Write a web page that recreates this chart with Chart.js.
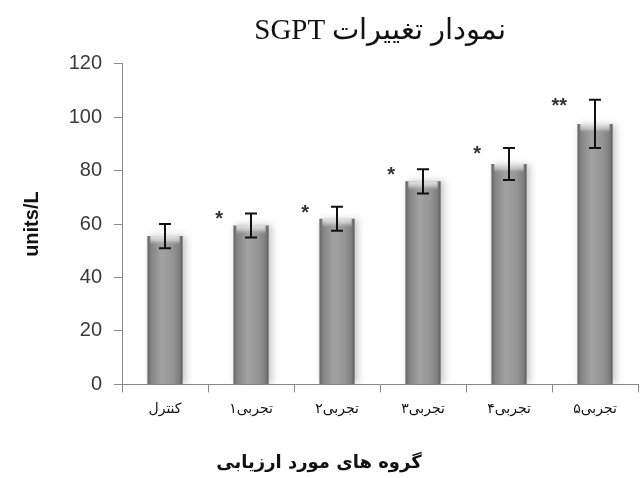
<!DOCTYPE html>
<html>
<head>
<meta charset="utf-8">
<script src="https://cdn.jsdelivr.net/npm/chart.js@4.4.1/dist/chart.umd.min.js"></script>
<style>
  html, body { margin: 0; padding: 0; background: #ffffff; }
  #wrap { width: 641px; height: 478px; }
</style>
</head>
<body>
<div id="wrap"><canvas id="chart" width="641" height="478"></canvas></div>
<script>
// Groups, mean SGPT (units/L), standard error and significance marks
const categories = ['کنترل', 'تجربی۱', 'تجربی۲', 'تجربی۳', 'تجربی۴', 'تجربی۵'];
const sgptMeans = [55.5, 59.5, 62, 76, 82.5, 97.5];
const sgptErrors = [4.5, 4.5, 4.5, 4.5, 6, 9];
const significance = ['', '*', '*', '*', '*', '**'];
const yTicks = [0, 20, 40, 60, 80, 100, 120];

const BAR_FRACTION = 0.41;

// Horizontal grey gradient giving the bars a rounded, cylinder-like look
function barFill(ctx) {
  const chart = ctx.chart;
  const xs = chart.scales && chart.scales.x;
  if (!xs || !chart.chartArea || ctx.dataIndex === undefined) return '#8f8f8f';
  const cx = xs.getPixelForValue(ctx.dataIndex);
  const w = (xs.width / categories.length) * BAR_FRACTION;
  const g = chart.ctx.createLinearGradient(cx - w / 2, 0, cx + w / 2, 0);
  g.addColorStop(0, '#676767');
  g.addColorStop(0.12, '#858585');
  g.addColorStop(0.4, '#a2a2a2');
  g.addColorStop(0.7, '#969696');
  g.addColorStop(0.9, '#808080');
  g.addColorStop(1, '#5f5f5f');
  return g;
}

// Soft shadow under the bars
const barShadow = {
  id: 'barShadow',
  beforeDatasetsDraw(chart) {
    const c = chart.ctx;
    c.save();
    c.shadowColor = 'rgba(0,0,0,0.22)';
    c.shadowBlur = 7;
    c.shadowOffsetX = 3;
    c.shadowOffsetY = 0;
  },
  afterDatasetsDraw(chart) {
    chart.ctx.restore();
  }
};

// Light bevelled cap, error bars and significance asterisks
const barDecorations = {
  id: 'barDecorations',
  afterDatasetsDraw(chart) {
    const c = chart.ctx;
    const ys = chart.scales.y;
    const meta = chart.getDatasetMeta(0);
    meta.data.forEach((bar, i) => {
      const left = bar.x - bar.width / 2;
      const w = bar.width;
      // cap highlight
      const cap = c.createLinearGradient(0, bar.y, 0, bar.y + 9);
      cap.addColorStop(0, 'rgba(235,235,235,0.95)');
      cap.addColorStop(0.5, 'rgba(215,215,215,0.7)');
      cap.addColorStop(1, 'rgba(170,170,170,0)');
      c.save();
      c.fillStyle = cap;
      c.fillRect(left + 3, bar.y, w - 6, 9);
      c.restore();

      // error bar
      const top = ys.getPixelForValue(sgptMeans[i] + sgptErrors[i]);
      const bot = ys.getPixelForValue(sgptMeans[i] - sgptErrors[i]);
      c.save();
      c.strokeStyle = '#111111';
      c.lineWidth = 2;
      c.beginPath();
      c.moveTo(bar.x, top); c.lineTo(bar.x, bot);
      c.moveTo(bar.x - 6, top); c.lineTo(bar.x + 6, top);
      c.moveTo(bar.x - 6, bot); c.lineTo(bar.x + 6, bot);
      c.stroke();

      // significance mark to the upper left of the bar
      if (significance[i]) {
        c.fillStyle = '#333333';
        c.font = 'bold 20px "Liberation Sans", Arial, sans-serif';
        c.textAlign = 'right';
        c.textBaseline = 'alphabetic';
        c.fillText(significance[i], bar.x - 28, top + 12);
      }
      c.restore();
    });
  }
};

new Chart(document.getElementById('chart'), {
  type: 'bar',
  data: {
    labels: categories,
    datasets: [{
      data: sgptMeans,
      backgroundColor: barFill,
      borderWidth: 0,
      categoryPercentage: 1,
      barPercentage: BAR_FRACTION
    }]
  },
  options: {
    responsive: false,
    animation: false,
    devicePixelRatio: 1,
    layout: { padding: { left: 0, right: 3, top: 0, bottom: 4 } },
    plugins: {
      legend: { display: false },
      tooltip: { enabled: false },
      title: {
        display: true,
        fullSize: false,
        text: '\u202Bنمودار تغییرات SGPT\u202C',
        color: '#111111',
        font: { family: '"Liberation Serif", "Times New Roman", serif', size: 29, weight: 'normal' },
        padding: { top: 14, bottom: 15 }
      },
      subtitle: {
        display: true,
        position: 'bottom',
        fullSize: true,
        text: 'گروه های مورد ارزیابی',
        color: '#111111',
        font: { family: '"DejaVu Sans", sans-serif', size: 18, weight: 'bold' },
        padding: { top: 28, bottom: 0 }
      }
    },
    scales: {
      x: {
        offset: true,
        grid: { display: true, drawOnChartArea: false, offset: true, tickLength: 8, color: '#8a8a8a', lineWidth: 1 },
        border: { display: true, color: '#8a8a8a', width: 1 },
        ticks: {
          color: '#111111',
          padding: 9,
          maxRotation: 0,
          font: { family: '"DejaVu Sans", sans-serif', size: 14 }
        },
        afterFit(scale) { scale.height = 40; }
      },
      y: {
        min: 0,
        max: 120,
        afterBuildTicks(scale) { scale.ticks = yTicks.map(v => ({ value: v })); },
        grid: { display: true, drawOnChartArea: false, tickLength: 8, color: '#8a8a8a', lineWidth: 1 },
        border: { display: true, color: '#8a8a8a', width: 1 },
        ticks: {
          color: '#3a3a3a',
          padding: 12,
          font: { family: '"Liberation Sans", Arial, sans-serif', size: 20 }
        },
        title: {
          display: true,
          text: 'units/L',
          color: '#111111',
          font: { family: '"Liberation Sans", Arial, sans-serif', size: 20, weight: 'bold' },
          padding: { top: 20, bottom: 0 }
        },
        afterFit(scale) { scale.width = 122; }
      }
    }
  },
  plugins: [barShadow, barDecorations]
});
</script>
</body>
</html>
